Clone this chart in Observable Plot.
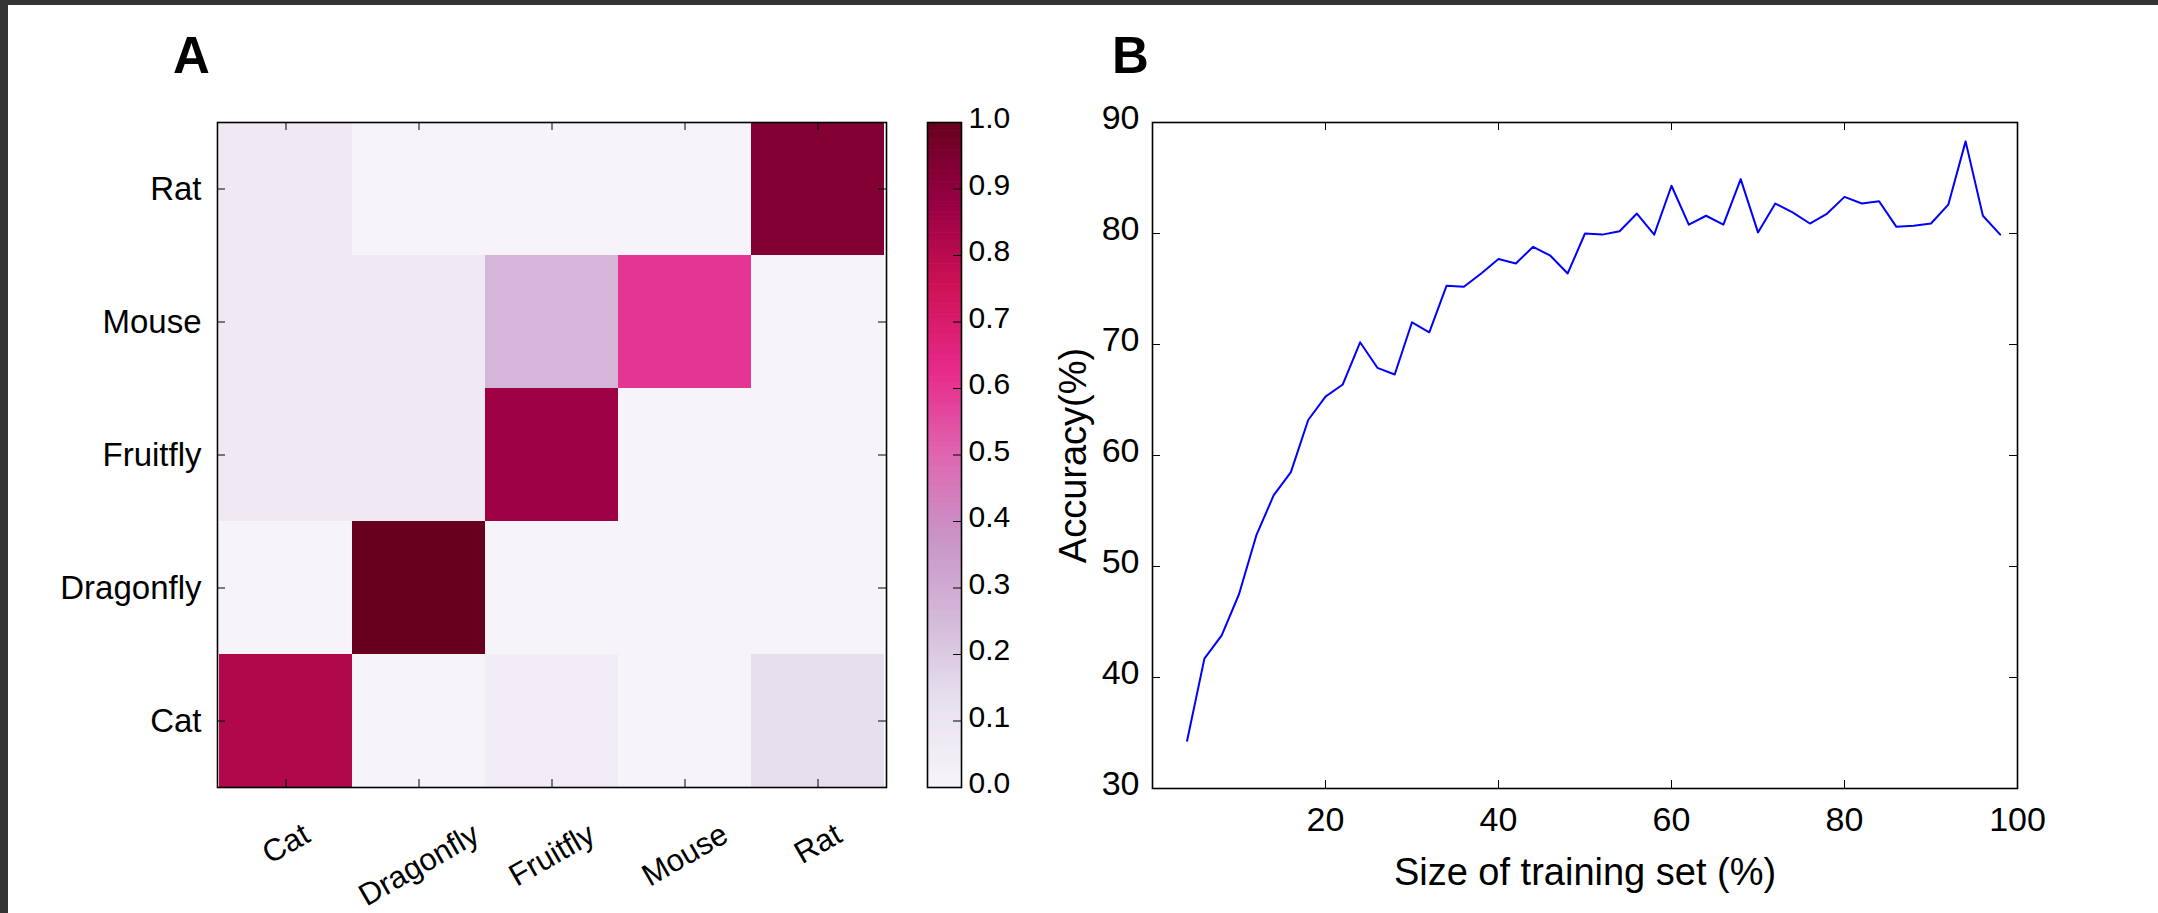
<!DOCTYPE html>
<html>
<head>
<meta charset="utf-8">
<script src="https://cdn.jsdelivr.net/npm/d3@7"></script>
<script src="https://cdn.jsdelivr.net/npm/@observablehq/plot@0.6"></script>
<style>
  html, body { margin: 0; padding: 0; background: #fff; }
  #page { position: relative; width: 2158px; height: 913px; overflow: hidden; background: #fff;
          font-family: "Liberation Sans", Arial, sans-serif; }
  .panel { position: absolute; top: 0; }
  .panel svg { display: block; }
  .plabel { position: absolute; top: 30px; font-weight: bold; font-size: 51px; line-height: 51px; color: #000; }
  .edge { position: absolute; background: #333; z-index: 10; }
</style>
</head>
<body>
<div id="page"></div>
<script>
// ---------------- data ----------------
// Panel A: confusion matrix (rows = true class, top to bottom; columns = predicted class)
const predicted = ["Cat", "Dragonfly", "Fruitfly", "Mouse", "Rat"];
const actual = ["Rat", "Mouse", "Fruitfly", "Dragonfly", "Cat"];
const rowRat       = [0.07, 0.00, 0.00, 0.00, 0.93];
const rowMouse     = [0.07, 0.07, 0.26, 0.60, 0.00];
const rowFruitfly  = [0.07, 0.07, 0.86, 0.00, 0.00];
const rowDragonfly = [0.00, 1.00, 0.00, 0.00, 0.00];
const rowCat       = [0.82, 0.00, 0.05, 0.00, 0.13];
const colorbarTicks = [0.0, 0.1, 0.2, 0.3, 0.4, 0.5, 0.6, 0.7, 0.8, 0.9, 1.0];

// Panel B: accuracy vs training-set size
const trainSize = [4, 6, 8, 10, 12, 14, 16, 18, 20, 22, 24, 26, 28, 30, 32, 34, 36, 38, 40, 42, 44, 46, 48,
                   50, 52, 54, 56, 58, 60, 62, 64, 66, 68, 70, 72, 74, 76, 78, 80, 82, 84, 86, 88, 90, 92, 94, 96, 98];
const accuracy = [34.3, 41.7, 43.8, 47.5, 52.8, 56.4, 58.5, 63.2, 65.3, 66.4, 70.2, 67.9, 67.3, 72.0, 71.1, 75.3,
                  75.2, 76.4, 77.7, 77.3, 78.8, 78.0, 76.4, 80.0, 79.9, 80.2, 81.8, 79.9, 84.3, 80.8, 81.6, 80.8,
                  84.9, 80.1, 82.7, 81.9, 80.9, 81.8, 83.3, 82.7, 82.9, 80.6, 80.7, 80.9, 82.6, 88.3, 81.6, 79.9];
const xTicks = [20, 40, 60, 80, 100];
const yTicks = [30, 40, 50, 60, 70, 80, 90];

// matplotlib "PuRd" anchor colours
const purd = ["#f7f4f9", "#e7e1ef", "#d4b9da", "#c994c7", "#df65b0", "#e7298a", "#ce1256", "#980043", "#67001f"];

// ---------------- build ----------------
const FONT = "Liberation Sans, Arial, sans-serif";
const rowsByName = {Rat: rowRat, Mouse: rowMouse, Fruitfly: rowFruitfly, Dragonfly: rowDragonfly, Cat: rowCat};
const cells = actual.flatMap(r => predicted.map((c, j) => ({row: r, col: c, value: rowsByName[r][j]})));
const colorScale = {type: "linear", domain: purd.map((_, i) => i / (purd.length - 1)), range: purd, interpolate: "rgb"};
const tickLen = 8;
const baseStyle = {fontFamily: FONT, background: "transparent", color: "black", overflow: "visible"};

const pageEl = document.getElementById("page");
function place(el, leftPx) {
  const wrap = document.createElement("div");
  wrap.className = "panel";
  wrap.style.left = leftPx + "px";
  wrap.appendChild(el);
  pageEl.appendChild(wrap);
}

// ---- Panel A heatmap ----
const hmW = 900, hmH = 913, hmL = 217, hmR = 14, hmT = 122, hmB = 126;
const hmFW = hmW - hmL - hmR, hmFH = hmH - hmT - hmB;
const colFont = 31;
const ctx = document.createElement("canvas").getContext("2d");
ctx.font = `${colFont}px "Liberation Sans"`;
const colLabelMarks = predicted.map(a => {
  const w = ctx.measureText(a).width;
  const half = (w * 0.5 + colFont * 0.85 * 0.866) / 2;
  return Plot.text([a], {x: d => d, text: d => d, frameAnchor: "bottom", rotate: -30,
    textAnchor: "middle", lineAnchor: "middle", fontSize: colFont, fill: "black", dy: 33 + half});
});

const heat = Plot.plot({
  width: hmW, height: hmH, marginLeft: hmL, marginRight: hmR, marginTop: hmT, marginBottom: hmB,
  style: baseStyle,
  x: {domain: predicted, padding: 0, axis: null, label: null},
  y: {domain: actual, padding: 0, label: null},
  color: colorScale,
  marks: [
    Plot.cell(cells, {x: "col", y: "row", fill: "value", inset: 0}),
    Plot.tickX(predicted, {x: d => d, insetBottom: hmFH - tickLen, stroke: "black", strokeWidth: 1}),
    Plot.tickX(predicted, {x: d => d, insetTop: hmFH - tickLen, stroke: "black", strokeWidth: 1}),
    Plot.tickY(actual, {y: d => d, insetRight: hmFW - tickLen, stroke: "black", strokeWidth: 1}),
    Plot.tickY(actual, {y: d => d, insetLeft: hmFW - tickLen, stroke: "black", strokeWidth: 1}),
    Plot.frame({stroke: "black", strokeWidth: 1.6}),
    Plot.axisY({tickSize: 0, tickPadding: 16, fontSize: 33, label: null}),
    ...colLabelMarks
  ]
});
place(heat, 0);

// ---- Colorbar ----
const cbW = 120, cbL = 27, cbR = 59, cbT = 122, cbB = 126;
const cbFW = cbW - cbL - cbR;
const gradSteps = d3.range(0, 1, 1 / 300);
const cbar = Plot.plot({
  width: cbW, height: 913, marginLeft: cbL, marginRight: cbR, marginTop: cbT, marginBottom: cbB,
  style: baseStyle,
  y: {domain: [0, 1], label: null},
  color: colorScale,
  marks: [
    Plot.rect(gradSteps, {y1: d => d, y2: d => Math.min(1, d + 1 / 300 + 0.001), fill: d => d, inset: 0}),
    Plot.tickY(colorbarTicks, {y: d => d, insetLeft: cbFW - tickLen, stroke: "black", strokeWidth: 1}),
    Plot.frame({stroke: "black", strokeWidth: 1.6}),
    Plot.axisY(colorbarTicks, {anchor: "right", tickSize: 0, tickPadding: 7, fontSize: 30, dy: -4,
      tickFormat: d3.format(".1f"), label: null})
  ]
});
place(cbar, 900);

// ---- Panel B line chart ----
const bW = 1138, bL = 132, bR = 141, bT = 122, bB = 125;
const bFW = bW - bL - bR, bFH = 913 - bT - bB;
const series = trainSize.map((x, i) => ({size: x, acc: accuracy[i]}));
const lineChart = Plot.plot({
  width: bW, height: 913, marginLeft: bL, marginRight: bR, marginTop: bT, marginBottom: bB,
  style: baseStyle,
  x: {domain: [0, 100], label: null},
  y: {domain: [30, 90], label: null},
  marks: [
    Plot.line(series, {x: "size", y: "acc", stroke: "#0000ff", strokeWidth: 2}),
    Plot.tickX(xTicks, {x: d => d, insetBottom: bFH - tickLen, stroke: "black", strokeWidth: 1}),
    Plot.tickX(xTicks, {x: d => d, insetTop: bFH - tickLen, stroke: "black", strokeWidth: 1}),
    Plot.tickY(yTicks, {y: d => d, insetRight: bFW - tickLen, stroke: "black", strokeWidth: 1}),
    Plot.tickY(yTicks, {y: d => d, insetLeft: bFW - tickLen, stroke: "black", strokeWidth: 1}),
    Plot.frame({stroke: "black", strokeWidth: 1.6}),
    Plot.axisX(xTicks, {tickSize: 0, tickPadding: 18.5, fontSize: 34, label: null}),
    Plot.axisY(yTicks, {tickSize: 0, tickPadding: 13, fontSize: 34, dy: -4, label: null}),
    Plot.text(["Size of training set (%)"], {text: d => d, frameAnchor: "bottom", textAnchor: "middle",
      lineAnchor: "middle", dy: 84, fontSize: 38, fill: "black"}),
    Plot.text(["Accuracy(%)"], {text: d => d, frameAnchor: "left", rotate: -90, textAnchor: "middle",
      lineAnchor: "middle", dx: -79, fontSize: 38, fill: "black"})
  ]
});
place(lineChart, 1020);

// ---- panel letters and dark window edge ----
[["A", 173], ["B", 1112]].forEach(([t, leftPx]) => {
  const d = document.createElement("div");
  d.className = "plabel";
  d.style.left = leftPx + "px";
  d.textContent = t;
  pageEl.appendChild(d);
});
const edgeTop = document.createElement("div");
edgeTop.className = "edge";
Object.assign(edgeTop.style, {left: "0px", top: "0px", width: "2158px", height: "5px"});
const edgeLeft = document.createElement("div");
edgeLeft.className = "edge";
Object.assign(edgeLeft.style, {left: "0px", top: "0px", width: "8px", height: "913px"});
pageEl.appendChild(edgeTop);
pageEl.appendChild(edgeLeft);
</script>
</body>
</html>
